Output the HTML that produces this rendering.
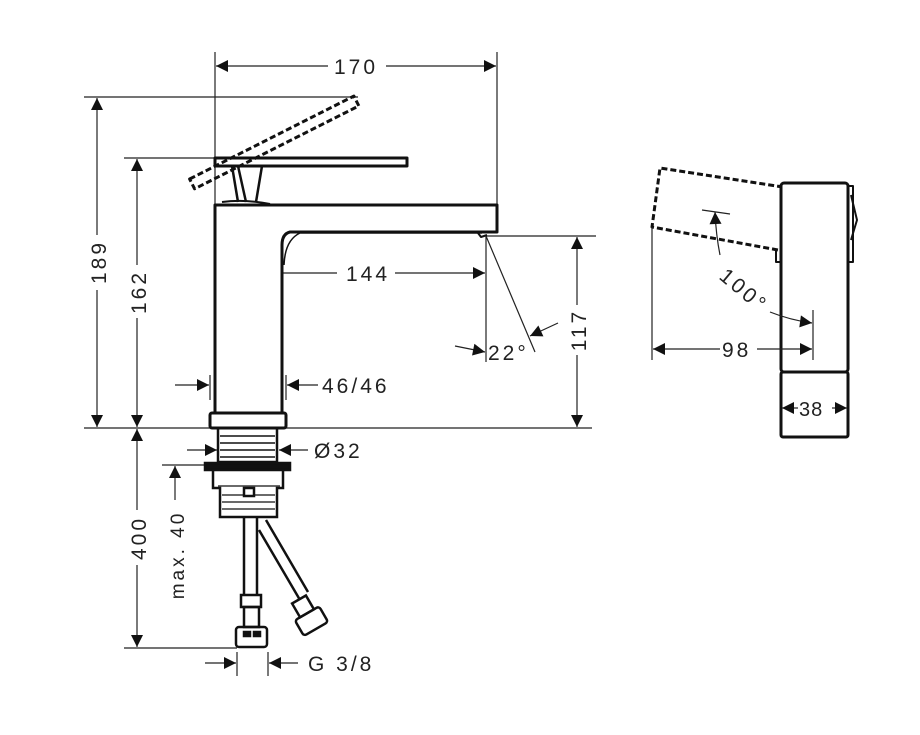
<!DOCTYPE html>
<html><head><style>body{margin:0;background:#fff}svg{display:block}text{font-family:"Liberation Sans",sans-serif;font-size:21px;fill:#222;letter-spacing:3px}</style></head>
<body>
<svg width="920" height="735" viewBox="0 0 920 735" xmlns="http://www.w3.org/2000/svg">
<defs>
<marker id="a" viewBox="0 0 10 10" refX="10" refY="5" markerWidth="18" markerHeight="12" markerUnits="userSpaceOnUse" orient="auto"><path d="M0,0L10,5L0,10z" fill="#111"/></marker>
</defs>
<g stroke="#222" stroke-width="1.2" fill="none">
<line x1="215" y1="52" x2="215" y2="205"/><line x1="497" y1="52" x2="497" y2="205"/>
<line x1="84" y1="97" x2="358" y2="97"/><line x1="124" y1="158" x2="215" y2="158"/>
<line x1="84" y1="428" x2="592" y2="428"/>
<line x1="124" y1="648" x2="237" y2="648"/>
<line x1="486" y1="236" x2="596" y2="236"/>
<line x1="486" y1="236" x2="486" y2="362"/>
<line x1="247" y1="262" x2="247" y2="290"/>
<line x1="210" y1="375" x2="210" y2="400"/><line x1="286" y1="375" x2="286" y2="400"/>
<line x1="237" y1="652" x2="237" y2="676"/><line x1="268" y1="652" x2="268" y2="676"/>
<line x1="162" y1="465" x2="205" y2="465"/>
<line x1="328" y1="66" x2="216" y2="66" marker-end="url(#a)"/><line x1="386" y1="66" x2="496" y2="66" marker-end="url(#a)"/>
<line x1="97" y1="235" x2="97" y2="98" marker-end="url(#a)"/><line x1="97" y1="290" x2="97" y2="427" marker-end="url(#a)"/>
<line x1="137" y1="265" x2="137" y2="159" marker-end="url(#a)"/><line x1="137" y1="318" x2="137" y2="427" marker-end="url(#a)"/>
<line x1="137" y1="510" x2="137" y2="429" marker-end="url(#a)"/><line x1="137" y1="565" x2="137" y2="647" marker-end="url(#a)"/>
<line x1="175" y1="500" x2="175" y2="466" marker-end="url(#a)"/>
<line x1="337" y1="273" x2="248" y2="273" marker-end="url(#a)"/><line x1="395" y1="273" x2="485" y2="273" marker-end="url(#a)"/>
<line x1="577" y1="305" x2="577" y2="237" marker-end="url(#a)"/><line x1="577" y1="355" x2="577" y2="427" marker-end="url(#a)"/>
<line x1="486" y1="236" x2="535" y2="352"/>
<line x1="455" y1="346" x2="485" y2="352" marker-end="url(#a)"/>
<line x1="558" y1="323" x2="530" y2="336" marker-end="url(#a)"/>
<line x1="175" y1="385" x2="209" y2="385" marker-end="url(#a)"/><line x1="318" y1="385" x2="287" y2="385" marker-end="url(#a)"/>
<line x1="187" y1="450" x2="217" y2="450" marker-end="url(#a)"/><line x1="308" y1="450" x2="279" y2="450" marker-end="url(#a)"/>
<line x1="205" y1="663" x2="236" y2="663" marker-end="url(#a)"/><line x1="298" y1="663" x2="269" y2="663" marker-end="url(#a)"/>
</g>
<g stroke="#111" stroke-width="3" fill="none" stroke-linejoin="round">
<path d="M215,205 H497 V232 H290 Q282,234 282,245 V413 H215 Z" fill="#fff"/>
<path d="M482,233 H300 Q285,240 284,265" stroke-width="1.5"/>
<path d="M478,233 l3,4 l6,-2" stroke-width="2"/>
<rect x="210" y="413" width="76" height="15" rx="2" fill="#fff"/>
<rect x="215" y="158" width="192" height="8" fill="#fff"/>
<path d="M238,166 L246,202 M232,166 L238,202 M262,166 L256,202" stroke-width="2.5"/>
<rect x="-92" y="-5" width="184" height="11" transform="translate(274,142) rotate(-26.8)" stroke-dasharray="6,3"/>
<path d="M222,202 Q245,199 270,204" stroke-width="2"/>
</g>
<g stroke="#111" stroke-width="2.5" fill="none">
<rect x="218" y="428" width="59" height="34"/>
<path d="M220,436H275M220,443H275M220,450H275M220,457H275" stroke-width="1.5"/>
<rect x="205" y="463" width="85" height="7" fill="#111"/>
<path d="M213,470 H283 V488 H277 V517 H220 V488 H213 Z" fill="#fff"/>
<path d="M222,495H275M222,502H275M222,509H275M218,486H280" stroke-width="1.3"/>
<rect x="244" y="488" width="10" height="8" fill="#fff"/>
<path d="M244,517 V595 M257,517 V595"/>
<path d="M259,530 L300,600 M266,520 L308,592"/>
<rect x="241" y="595" width="20" height="12"/>
<rect x="244" y="607" width="15" height="20"/>
<rect x="236" y="627" width="31" height="20" rx="3"/>
<rect x="244" y="632" width="6" height="4" fill="#111"/><rect x="254" y="632" width="6" height="4" fill="#111"/>
<g transform="rotate(-30 312 622)"><rect x="304" y="596" width="16" height="16"/><rect x="298" y="612" width="28" height="18" rx="3"/></g>
</g>
<g stroke="#111" stroke-width="3" fill="none" stroke-linejoin="round">
<path d="M783,187 L660,168 L652,227 L778,250" stroke-dasharray="6,3"/>
<path d="M776,250 V262 H781" stroke-width="2"/>
<rect x="781" y="183" width="67" height="189" rx="3" fill="#fff"/>
<rect x="781" y="372" width="67" height="65" rx="2" fill="#fff"/>
<path d="M848,186 H853 V262 H848 M851,195 L857,220 L851,240" stroke-width="2"/>
</g>
<g stroke="#222" stroke-width="1.2" fill="none">
<line x1="652" y1="227" x2="652" y2="360"/><line x1="813" y1="310" x2="813" y2="360"/>
<line x1="720" y1="349" x2="653" y2="349" marker-end="url(#a)"/><line x1="757" y1="349" x2="812" y2="349" marker-end="url(#a)"/>
<line x1="702" y1="210" x2="730" y2="214"/>
<path d="M720,255 Q716,235 715,212" marker-end="url(#a)"/>
<path d="M770,312 Q790,320 812,323" marker-end="url(#a)"/>
<line x1="798" y1="408" x2="782" y2="408" marker-end="url(#a)"/><line x1="832" y1="408" x2="847" y2="408" marker-end="url(#a)"/>
</g>
<text x="334" y="74">170</text>
<text x="106" y="262" transform="rotate(-90 106 262)" text-anchor="middle">189</text>
<text x="146" y="292" transform="rotate(-90 146 292)" text-anchor="middle">162</text>
<text x="146" y="538" transform="rotate(-90 146 538)" text-anchor="middle">400</text>
<text x="184" y="555" transform="rotate(-90 184 555)" text-anchor="middle" style="font-size:19px">max. 40</text>
<text x="346" y="281">144</text>
<text x="586" y="330" transform="rotate(-90 586 330)" text-anchor="middle">117</text>
<text x="488" y="360">22°</text>
<text x="322" y="393">46/46</text>
<text x="314" y="458">Ø32</text>
<text x="308" y="671">G 3/8</text>
<text x="722" y="357">98</text>
<text x="799" y="416" style="font-size:20px;letter-spacing:1px">38</text>
<text x="718" y="278" transform="rotate(40 718 278)">100°</text>
</svg>
</body></html>
